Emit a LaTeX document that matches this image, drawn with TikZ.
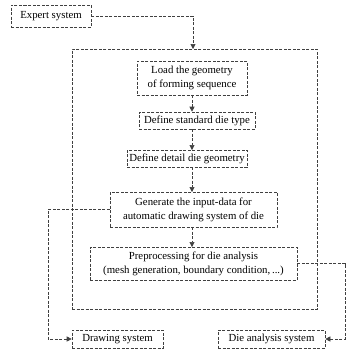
\documentclass[tikz,border=0pt]{standalone}
\usepackage{fontspec}
\setmainfont{Liberation Serif}
\usetikzlibrary{arrows.meta}
\begin{document}
\begin{tikzpicture}[x=1pt,y=-1pt,
  dl/.style={draw=black!75, line width=0.6pt, dash pattern=on 3pt off 1.5pt},
  boxn/.style={dl, fill=white, font=\fontsize{10.8}{14}\selectfont, align=center, inner sep=0pt},
  arr/.style={dl, -{Triangle[length=5pt,width=5pt]}}
]
\useasboundingbox (0,0) rectangle (348,354);
\node[dl, minimum width=245pt, minimum height=260pt, inner sep=0pt] (big) at (194.5,179) {};
\node[boxn, minimum width=80pt, minimum height=22pt] (expert) at (51,16) {Expert system};
\node[boxn, minimum width=110pt, minimum height=34pt] (load) at (192,78) {Load the geometry\\of forming sequence};
\node[boxn, minimum width=116pt, minimum height=17pt] (std) at (197,120.5) {Define standard die type};
\node[boxn, minimum width=120pt, minimum height=17pt] (detail) at (187,158.5) {Define detail die geometry};
\node[boxn, minimum width=167pt, minimum height=35pt] (gen) at (193.5,209.5) {Generate the input-data for\\automatic drawing system of die};
\node[boxn, minimum width=207pt, minimum height=33pt] (pre) at (193.5,263.5) {Preprocessing for die analysis\\(mesh generation, boundary condition,\,...)};
\node[boxn, minimum width=91pt, minimum height=18pt] (drw) at (117.5,339) {Drawing system};
\node[boxn, minimum width=107pt, minimum height=18pt] (die) at (271.5,339) {Die analysis system};
\coordinate (ain) at (193,49);
\coordinate (lft) at (48,209.5);
\coordinate (rgt) at (345,263.5);
\draw[arr] (expert.east) -| (ain);
\draw[arr] (load.south) -- (load.south |- std.north);
\draw[arr] (192,129) -- (192,150);
\draw[arr] (192,167) -- (192,192);
\draw[arr] (192,227) -- (192,247);
\draw[arr] (gen.west) -- (lft) |- (drw.west);
\draw[arr] (pre.east) -- (rgt) |- (die.east);
\end{tikzpicture}
\end{document}
